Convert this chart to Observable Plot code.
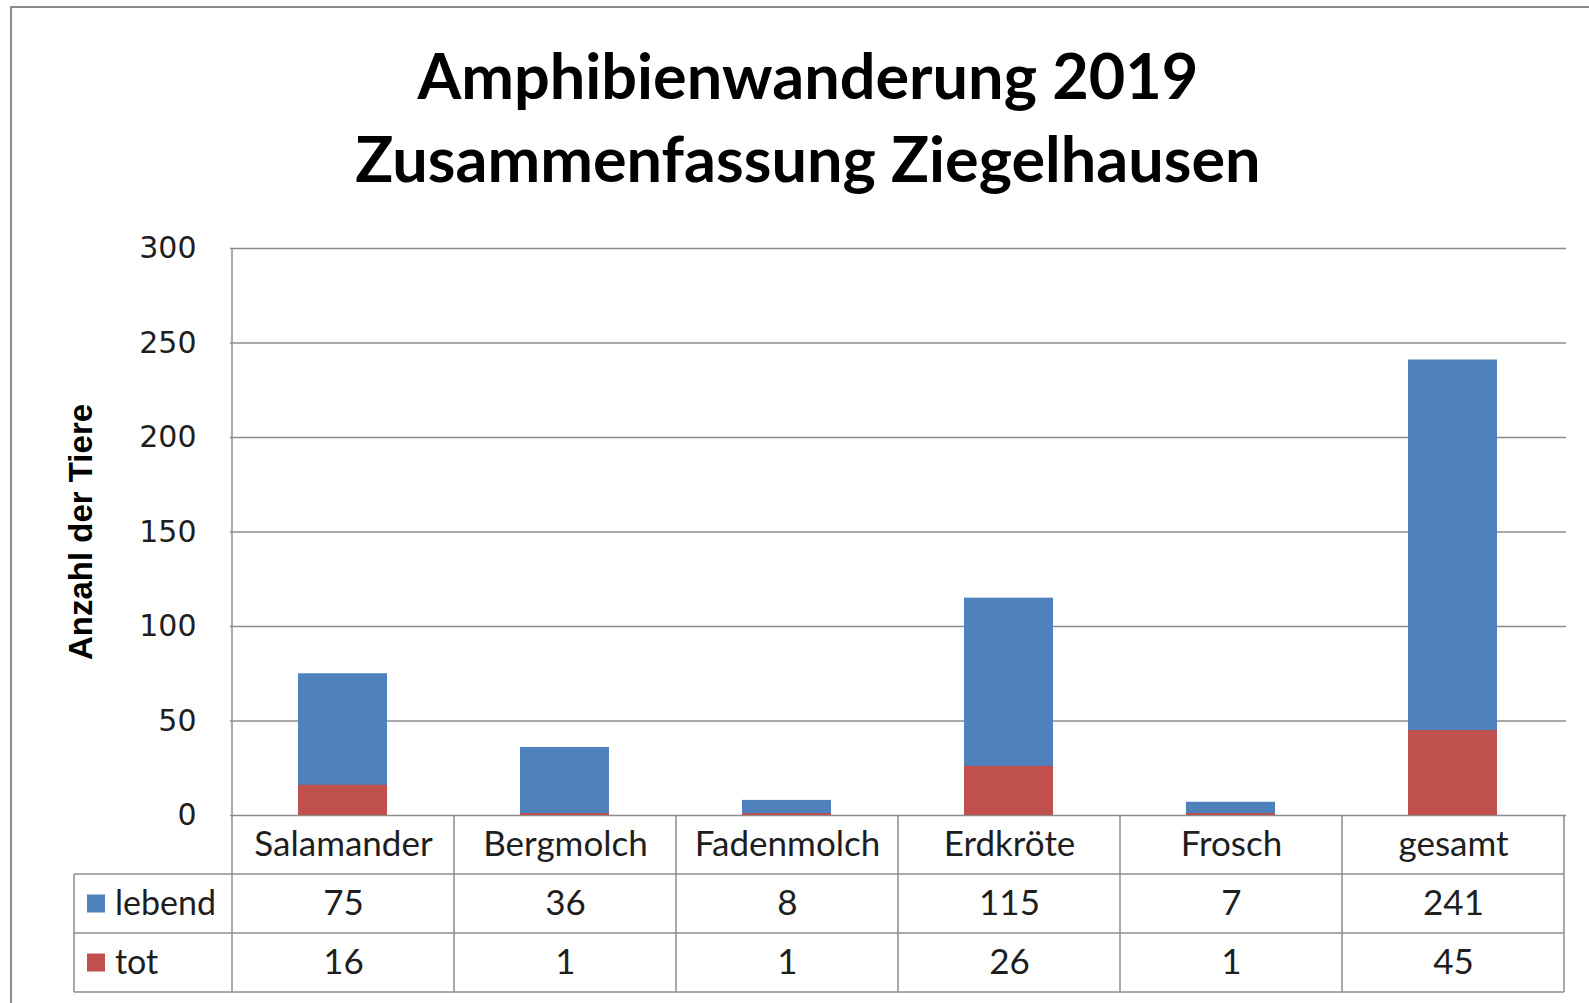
<!DOCTYPE html>
<html>
<head>
<meta charset="utf-8">
<script src="https://cdn.jsdelivr.net/npm/d3@7"></script>
<script src="https://cdn.jsdelivr.net/npm/@observablehq/plot@0.6"></script>
<style>
  html, body { margin: 0; padding: 0; background: #fff; }
  #wrap { position: relative; width: 1589px; height: 1003px; overflow: hidden; }
  #frame { position: absolute; left: 10px; top: 6px; width: 1700px; height: 1200px;
           border-left: 2px solid #8c8c8c; border-top: 2px solid #8c8c8c; box-sizing: border-box; }
  #title { position: relative; width: 1616px; height: 230px; box-sizing: border-box; padding-top: 33px;
           text-align: center; font-family: Lato, sans-serif; font-weight: bold; font-size: 63px;
           line-height: 83px; color: #000; }
  #chart { position: relative; }
  #chart svg { display: block; }
</style>
</head>
<body>
<div id="wrap">
  <div id="frame"></div>
  <div id="title">Amphibienwanderung 2019<br>Zusammenfassung Ziegelhausen</div>
  <div id="chart"></div>
</div>
<script>
const categories = ["Salamander", "Bergmolch", "Fadenmolch", "Erdkröte", "Frosch", "gesamt"];
const lebend = [75, 36, 8, 115, 7, 241];
const tot = [16, 1, 1, 26, 1, 45];
const seriesNames = ["lebend", "tot"];
const seriesColors = ["#4F81BD", "#C0504D"];
const yTicks = [0, 50, 100, 150, 200, 250, 300];
const yLabel = "Anzahl der Tiere";

const data = categories.map((c, i) => ({cat: c, lebend: lebend[i], tot: tot[i]}));

const W = 1589, H = 773;
const mL = 230, mR = 23, mT = 18, mB = 188;
const rowH = 59;            // table row height
const tableLeft = 74;       // left edge of legend column
const gridColor = "#8c8c8c";
const textColor = "#1e1e1e";

// table grid + legend keys, positioned through the plot's scales
function tableMark(index, scales, values, dims) {
  const g = d3.create("svg:g");
  const x = scales.x, y = scales.y;
  const n = categories.length;
  const step = (dims.width - dims.marginLeft - dims.marginRight) / n;
  const bw = x.bandwidth ? x.bandwidth() : step;
  const y0 = y(0), yTop = y(yTicks[yTicks.length - 1]);
  const edges = categories.map(c => x(c));
  const right = x(categories[n - 1]) + bw;
  const line = (x1, y1, x2, y2) => g.append("line")
    .attr("x1", x1).attr("y1", y1).attr("x2", x2).attr("y2", y2)
    .attr("stroke", gridColor).attr("stroke-width", 1.5);
  line(edges[0], yTop, edges[0], y0 + 3 * rowH);
  edges.slice(1).forEach(e => line(e, y0, e, y0 + 3 * rowH));
  line(right, y0, right, y0 + 3 * rowH);
  line(tableLeft, y0 + rowH, tableLeft, y0 + 3 * rowH);
  for (let r = 1; r <= 3; r++) line(tableLeft, y0 + r * rowH, right, y0 + r * rowH);
  seriesNames.forEach((s, i) => {
    const cy = y0 + rowH * (i + 1.5);
    g.append("rect").attr("x", tableLeft + 13).attr("y", cy - 9).attr("width", 18).attr("height", 18)
      .attr("fill", seriesColors[i]);
    g.append("text").attr("x", tableLeft + 41).attr("y", cy).attr("dy", "0.35em")
      .attr("text-anchor", "start")
      .attr("font-family", "Lato, sans-serif").attr("font-size", 34).attr("fill", textColor)
      .text(s);
  });
  return g.node();
}

const plot = Plot.plot({
  width: W, height: H,
  marginLeft: mL, marginRight: mR, marginTop: mT, marginBottom: mB,
  style: {background: "transparent", overflow: "visible"},
  x: {domain: categories, padding: 0, axis: null},
  y: {domain: [0, 300], axis: null},
  marks: [
    Plot.gridY(yTicks, {stroke: gridColor, strokeOpacity: 1, strokeWidth: 1.5}),
    Plot.axisY(yTicks, {tickSize: 0, tickPadding: 34, fontSize: 30, fontFamily: "DejaVu Sans, sans-serif",
                        fill: textColor, label: null}),
    Plot.text([yLabel], {y: 150, frameAnchor: "left", textAnchor: "middle", rotate: -90, dx: -149,
                         fontSize: 33, fontWeight: "bold",
                         fontFamily: "Liberation Sans, Arial, sans-serif", fill: "#000"}),
    Plot.barY(data, {x: "cat", y1: 0, y2: "lebend", fill: seriesColors[0], insetLeft: 66, insetRight: 67}),
    Plot.barY(data, {x: "cat", y1: 0, y2: "tot", fill: seriesColors[1], insetLeft: 66, insetRight: 67}),
    tableMark,
    Plot.text(data, {x: "cat", y: 0, text: "cat", dy: rowH / 2, fontSize: 35, fontFamily: "Lato, sans-serif", fill: textColor}),
    Plot.text(data, {x: "cat", y: 0, text: "lebend", dy: rowH * 1.5, fontSize: 35, fontFamily: "Lato, sans-serif", fill: textColor}),
    Plot.text(data, {x: "cat", y: 0, text: "tot", dy: rowH * 2.5, fontSize: 35, fontFamily: "Lato, sans-serif", fill: textColor})
  ]
});
document.getElementById("chart").appendChild(plot);
</script>
</body>
</html>
